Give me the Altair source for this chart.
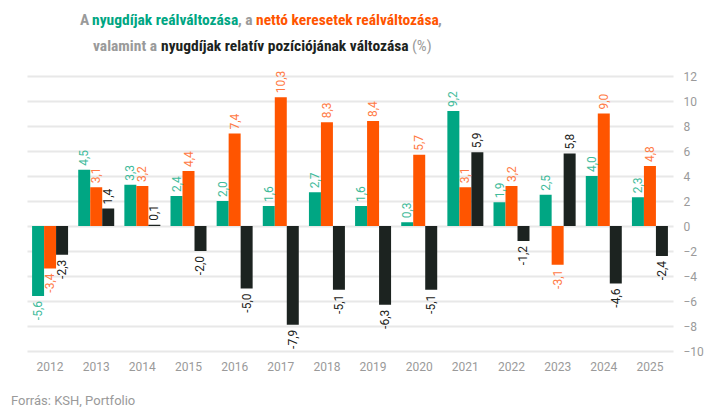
import altair as alt
import pandas as pd

years = [str(y) for y in range(2012, 2026)]
nyugdij = [-5.6, 4.5, 3.3, 2.4, 2.0, 1.6, 2.7, 1.6, 0.3, 9.2, 1.9, 2.5, 4.0, 2.3]
kereset = [-3.4, 3.1, 3.2, 4.4, 7.4, 10.3, 8.3, 8.4, 5.7, 3.1, 3.2, -3.1, 9.0, 4.8]
pozicio = [-2.3, 1.4, 0.1, -2.0, -5.0, -7.9, -5.1, -6.3, -5.1, 5.9, -1.2, 5.8, -4.6, -2.4]

series_names = ["Nyugdíjak reálváltozása", "Nettó keresetek reálváltozása",
                "Nyugdíjak relatív pozíciója"]
bar_colors = ["#00a683", "#ff5500", "#1c2320"]
label_colors = ["#3fbb9b", "#ff7a45", "#1c2320"]

rows = []
for i, y in enumerate(years):
    for s, vals in zip(series_names, [nyugdij, kereset, pozicio]):
        v = vals[i]
        rows.append({"year": y, "series": s, "value": v,
                     "label": f"{v:.1f}".replace(".", ",")})
df = pd.DataFrame(rows)

GRAY = "#9a9a9a"

x_enc = alt.X("year:N", sort=years,
              scale=alt.Scale(paddingInner=0.22, paddingOuter=0.11),
              axis=alt.Axis(title=None, labelAngle=0, domain=False, ticks=False,
                            labelColor=GRAY, labelFontSize=12, labelPadding=10,
                            labelFont="Roboto"))
xoff = alt.XOffset("series:N", sort=series_names,
                   scale=alt.Scale(paddingInner=0, paddingOuter=0))
y_enc = alt.Y("value:Q",
              scale=alt.Scale(domain=[-10, 12], nice=False),
              axis=alt.Axis(title=None, orient="right", values=list(range(-10, 13, 2)),
                            domain=False, ticks=False, grid=True, gridColor="#e8e8e8",
                            gridWidth=2, labelColor=GRAY, labelFontSize=12,
                            labelPadding=10, labelFont="Roboto"))

base = alt.Chart(df)

bars = base.mark_bar().encode(
    x=x_enc, xOffset=xoff, y=y_enc,
    color=alt.Color("series:N", scale=alt.Scale(domain=series_names, range=bar_colors),
                    legend=None),
)

lab_color = alt.Color("series:N", scale=alt.Scale(domain=series_names, range=label_colors),
                      legend=None)

pos_labels = base.transform_filter("datum.value >= 0").mark_text(
    angle=270, align="left", baseline="middle", dx=4, font="Roboto", fontSize=12
).encode(x=x_enc, xOffset=xoff, y=y_enc, text="label:N", color=lab_color)

neg_labels = base.transform_filter("datum.value < 0").mark_text(
    angle=270, align="right", baseline="middle", dx=-5, font="Roboto", fontSize=12
).encode(x=x_enc, xOffset=xoff, y=y_enc, text="label:N", color=lab_color)

# multi-coloured title
title_segments = ["A", "nyugdíjak reálváltozása", ", a", "nettó keresetek reálváltozása", ",",
                  "valamint a", "nyugdíjak relatív pozíciójának változása", "(%)"]
title_colors = [GRAY, "#00a683", GRAY, "#ff5500", GRAY, GRAY, "#1c2320", GRAY]
title_x = [53, 65, 211, 229, 411, 66, 134, 385]
title_y = [-56, -56, -56, -56, -56, -30, -30, -30]
title_bold = ["bold"] * 7 + ["normal"]

title_layers = []
for t, c, xx, yy, w in zip(title_segments, title_colors, title_x, title_y, title_bold):
    title_layers.append(
        alt.Chart(pd.DataFrame({"t": [t]})).mark_text(
            align="left", baseline="middle", font="Roboto Condensed, Liberation Sans Narrow, Roboto",
            fontSize=15.5, fontWeight=w, color=c
        ).encode(text="t:N", x=alt.value(xx), y=alt.value(yy))
    )

source = alt.Chart(pd.DataFrame({"t": ["Forrás: KSH, Portfolio"]})).mark_text(
    align="left", baseline="middle", font="Roboto", fontSize=13, color=GRAY
).encode(text="t:N", x=alt.value(-16), y=alt.value(325))

chart = alt.layer(bars, pos_labels, neg_labels, *title_layers, source).resolve_scale(
    color="independent"
).properties(
    width=646, height=275,
    autosize=alt.AutoSizeParams(type="none"),
    padding={"left": 19, "top": 68, "right": 37, "bottom": 56},
).configure_view(stroke=None)

chart.save("out.html", embed_options={"renderer": "svg", "actions": False})
